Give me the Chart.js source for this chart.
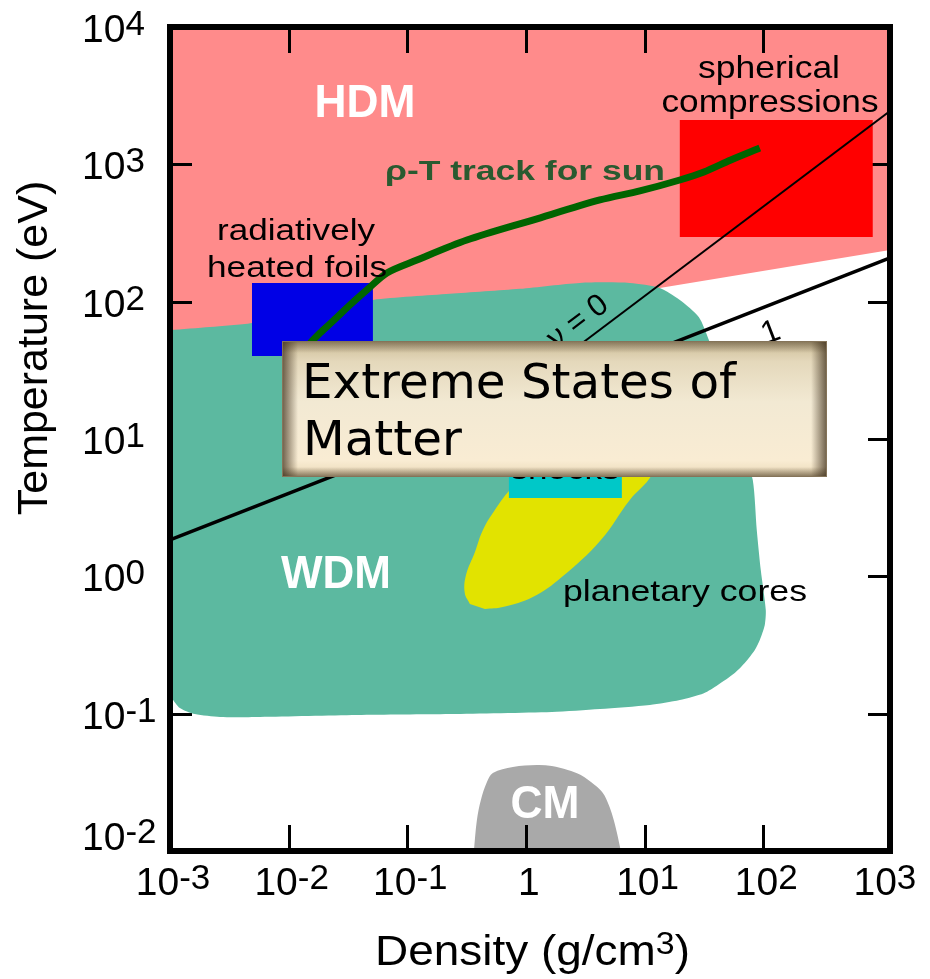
<!DOCTYPE html>
<html><head><meta charset="utf-8">
<script src="https://cdn.jsdelivr.net/npm/chart.js@4.4.1/dist/chart.umd.min.js"></script>
<style>html,body{margin:0;padding:0;background:#fff;}canvas{display:block;}</style>
</head><body>
<canvas id="c" width="930" height="979"></canvas>
<script>
// ---- data (density g/cm3, temperature eV) ----
const hdmRegion = [[0.001,10000],[1170,10000],[1170,238],[13.4,126],[9.1,62],[0.001,52.6]];
const wdmRegion = [[0.001,62.1],[0.00217,65.4],[0.00491,70.0],[0.01245,84.1],[0.0513,103],[0.2285,114],[0.889,124],[2.844,137],[7.50,137],[13.43,126],[19.8,103],[28.6,77.3],[34.8,52.6],[39.8,37.6],[46.5,26.9],[63.4,11.6],[81.6,5.02],[88.2,2.17],[95.3,1.11],[105,0.569],[103,0.443],[93.5,0.344],[84.9,0.291],[69.8,0.234],[57.5,0.198],[41.4,0.162],[31.6,0.141],[19.8,0.1257],[11.07,0.1156],[4.20,0.108],[1.652,0.1028],[0.2285,0.0993],[0.0376,0.0977],[0.00573,0.0946],[0.00264,0.0946],[0.00162,0.0993],[0.00121,0.110],[0.00104,0.130],[0.001,0.149]];
const cmRegion = [[0.364,0.01],[0.386,0.0168],[0.417,0.0235],[0.469,0.0318],[0.526,0.0370],[0.776,0.0409],[1.236,0.0423],[1.65,0.0416],[2.25,0.0389],[2.90,0.0357],[3.80,0.0302],[4.45,0.0264],[4.99,0.0216],[5.40,0.0177],[5.83,0.0137],[6.31,0.01]];
const planetaryCores = [[0.337,0.629],[0.305,0.757],[0.312,1.02],[0.371,1.50],[0.433,2.17],[0.547,3.04],[0.731,4.25],[1.31,7.03],[2.84,10.7],[6.18,12.6],[11.07,11.6],[13.4,8.32],[11.5,5.47],[7.50,3.60],[4.28,1.84],[2.005,0.989],[1.143,0.707],[0.638,0.598],[0.451,0.578]];
const shocksBox = [[0.718,7.03],[6.43,7.03],[6.43,3.72],[0.718,3.72]];
const foilsBox = [[0.00491,137],[0.0513,137],[0.0513,40.2],[0.00491,40.2]];
const compressionsBox = [[19.8,2100],[837,2100],[837,296],[19.8,296]];
const nuZeroLine = [[0.409,13.7],[1170,2445]];
const gammaOneLine = [[0.001,1.84],[1170,208]];
const sunTrack = [[0.01245,37.6],[0.01426,46.8],[0.01835,59.1],[0.02317,71.1],[0.0328,94.6],[0.0457,122],[0.0673,162],[0.1205,201],[0.318,281],[1.143,393],[4.20,550],[9.12,640],[19.8,769],[31.6,879],[53.3,1076],[93.5,1315]];

const xTickValues = [0.001,0.01,0.1,1,10,100,1000];
const xTickBase = ['10','10','10','1','10','10','10'];
const xTickExp  = ['-3','-2','-1','','1','2','3'];
const yTickValues = [0.01,0.1,1,10,100,1000,10000];
const yTickBase = ['10','10','10','10','10','10','10'];
const yTickExp  = ['-2','-1','0','1','2','3','4'];

const xTitle = ['Density (g/cm','3',')'];
const yTitle = 'Temperature (eV)';
const boxTitle = ['Extreme States of','Matter'];

// ---- helpers ----
const pts = a => a.map(p => ({x:p[0], y:p[1]}));
const SANS = '"Liberation Sans", Arial, Helvetica, sans-serif';

function fitText(ctx, text, x, y, font, color, align, width) {
  ctx.save();
  ctx.font = font; ctx.fillStyle = color; ctx.textBaseline = 'alphabetic'; ctx.textAlign = 'left';
  const w = ctx.measureText(text).width;
  const sx = width ? width / w : 1;
  const left = align === 'center' ? x - w * sx / 2 : (align === 'right' ? x - w * sx : x);
  ctx.translate(left, y); ctx.scale(sx, 1);
  ctx.fillText(text, 0, 0);
  ctx.restore();
  return sx;
}
function rotText(ctx, text, x, y, deg, font, color) {
  ctx.save();
  ctx.translate(x, y); ctx.rotate(deg * Math.PI / 180);
  ctx.font = font; ctx.fillStyle = color; ctx.textAlign = 'center'; ctx.textBaseline = 'middle';
  ctx.fillText(text, 0, 0);
  ctx.restore();
}
function supLabel(ctx, base, exp, x, yb, align, rise) {
  const bf = '39px ' + SANS, ef = '35px ' + SANS;
  ctx.font = bf; const wb = ctx.measureText(base).width;
  ctx.font = ef; const we = exp ? ctx.measureText(exp).width : 0;
  const x0 = align === 'center' ? x - (wb + we) / 2 : x;
  ctx.textAlign = 'left'; ctx.textBaseline = 'alphabetic'; ctx.fillStyle = '#000';
  ctx.font = bf; ctx.fillText(base, x0, yb);
  if (exp) { ctx.font = ef; ctx.fillText(exp, x0 + wb, yb - rise); }
}

function drawTicks(chart) {
  const {ctx, chartArea: a, scales: {x, y}} = chart;
  ctx.save(); ctx.strokeStyle = '#000'; ctx.lineWidth = 3; ctx.beginPath();
  xTickValues.forEach(v => {
    const px = Math.round(x.getPixelForValue(v)) + 0.5;
    if (px <= a.left + 4 || px >= a.right - 12) return;
    ctx.moveTo(px, a.bottom); ctx.lineTo(px, a.bottom - 26);
    ctx.moveTo(px, a.top); ctx.lineTo(px, a.top + 26);
  });
  yTickValues.forEach(v => {
    const py = Math.round(y.getPixelForValue(v)) + 0.5;
    if (py <= a.top + 4 || py >= a.bottom - 4) return;
    ctx.moveTo(a.left, py); ctx.lineTo(a.left + 22, py);
    ctx.moveTo(a.right, py); ctx.lineTo(a.right - 22, py);
  });
  ctx.stroke(); ctx.restore();
}

function drawLabels(chart) {
  const ctx = chart.ctx;
  fitText(ctx, 'HDM', 365, 117, 'bold 46px ' + SANS, '#fff', 'center', 101);
  fitText(ctx, 'WDM', 336, 588, 'bold 46px ' + SANS, '#fff', 'center', 110);
  fitText(ctx, 'CM', 545, 818, 'bold 46px ' + SANS, '#fff', 'center', 69);
  fitText(ctx, '\u03C1-T track for sun', 385, 180, 'bold 27px ' + SANS, '#2A5A30', 'left', 280);
  fitText(ctx, 'radiatively', 296, 240, '30px ' + SANS, '#000', 'center', 158);
  fitText(ctx, 'heated foils', 297, 277, '30px ' + SANS, '#000', 'center', 180);
  fitText(ctx, 'spherical', 769, 78, '32px ' + SANS, '#000', 'center', 142);
  fitText(ctx, 'compressions', 770, 112, '32px ' + SANS, '#000', 'center', 217);
  fitText(ctx, 'planetary cores', 563, 601, '29px ' + SANS, '#000', 'left', 244);
  fitText(ctx, 'shocks', 565, 479, '30px ' + SANS, '#000', 'center', 109);
  rotText(ctx, '\u03BD = 0', 578, 322, -37, '31px ' + SANS, '#000');
  rotText(ctx, '1', 771, 333, -21, '32px ' + SANS, '#000');
}

function drawFrame(chart) {
  const {ctx, chartArea: a} = chart;
  ctx.save(); ctx.strokeStyle = '#000'; ctx.lineWidth = 6;
  ctx.strokeRect(a.left, a.top, a.right - a.left, a.bottom - a.top);
  ctx.restore();
}

function drawAxisText(chart) {
  const {ctx, chartArea: a, scales: {x, y}} = chart;
  ctx.save();
  xTickValues.forEach((v, i) => supLabel(ctx, xTickBase[i], xTickExp[i], x.getPixelForValue(v) + 3, 895, 'center', 6));
  yTickValues.forEach((v, i) => supLabel(ctx, yTickBase[i], yTickExp[i], 82, Math.min(y.getPixelForValue(v) + 15, 850), 'left', 7));
  // x title with superscript
  const bf = '42px ' + SANS, sf = '31px ' + SANS;
  ctx.font = bf; const w1 = ctx.measureText(xTitle[0]).width, w3 = ctx.measureText(xTitle[2]).width;
  ctx.font = sf; const w2 = ctx.measureText(xTitle[1]).width;
  const sx = 315 / (w1 + w2 + w3);
  ctx.translate(375, 965); ctx.scale(sx, 1);
  ctx.fillStyle = '#000'; ctx.textAlign = 'left'; ctx.textBaseline = 'alphabetic';
  ctx.font = bf; ctx.fillText(xTitle[0], 0, 0);
  ctx.font = sf; ctx.fillText(xTitle[1], w1, -11);
  ctx.font = bf; ctx.fillText(xTitle[2], w1 + w2, 0);
  ctx.restore();
  ctx.save();
  ctx.translate(47, 348); ctx.rotate(-Math.PI / 2);
  ctx.font = '43px ' + SANS; ctx.fillStyle = '#000'; ctx.textAlign = 'center'; ctx.textBaseline = 'alphabetic';
  ctx.fillText(yTitle, 0, 0);
  ctx.restore();
}

function drawBox(chart) {
  const ctx = chart.ctx;
  const x0 = 282, y0 = 341, w = 545, h = 136;
  ctx.save();
  const g = ctx.createLinearGradient(0, y0, 0, y0 + h);
  g.addColorStop(0, '#cbbb95'); g.addColorStop(0.15, '#e4d8bb'); g.addColorStop(0.45, '#f2e9d3');
  g.addColorStop(0.88, '#f9ecd3'); g.addColorStop(1, '#e8d7b4');
  ctx.fillStyle = g; ctx.fillRect(x0, y0, w, h);
  const sh = 'rgba(60,45,25,';
  let gr = ctx.createLinearGradient(x0, 0, x0 + 16, 0);
  gr.addColorStop(0, sh + '0.75)'); gr.addColorStop(1, sh + '0)');
  ctx.fillStyle = gr; ctx.fillRect(x0, y0, 16, h);
  gr = ctx.createLinearGradient(x0 + w, 0, x0 + w - 16, 0);
  gr.addColorStop(0, sh + '0.75)'); gr.addColorStop(1, sh + '0)');
  ctx.fillStyle = gr; ctx.fillRect(x0 + w - 16, y0, 16, h);
  gr = ctx.createLinearGradient(0, y0, 0, y0 + 12);
  gr.addColorStop(0, sh + '0.5)'); gr.addColorStop(1, sh + '0)');
  ctx.fillStyle = gr; ctx.fillRect(x0, y0, w, 12);
  gr = ctx.createLinearGradient(0, y0 + h, 0, y0 + h - 10);
  gr.addColorStop(0, sh + '0.6)'); gr.addColorStop(1, sh + '0)');
  ctx.fillStyle = gr; ctx.fillRect(x0, y0 + h - 10, w, 10);
  ctx.strokeStyle = '#857459'; ctx.lineWidth = 1; ctx.strokeRect(x0 + 0.5, y0 + 0.5, w - 1, h - 1);
  ctx.restore();
  const f = '48px "DejaVu Sans", Verdana, sans-serif';
  ctx.save(); ctx.font = f;
  const sx = 434 / ctx.measureText(boxTitle[0]).width;
  ctx.fillStyle = '#000'; ctx.textAlign = 'left'; ctx.textBaseline = 'alphabetic';
  ctx.translate(302, 398); ctx.scale(sx, 1); ctx.fillText(boxTitle[0], 0, 0);
  ctx.fillText(boxTitle[1], 1, 57);
  ctx.restore();
}

const decor = {
  id: 'decor',
  afterDatasetDraw(chart, args) { if (args.index === 1) drawTicks(chart); },
  afterDatasetsDraw(chart) { drawLabels(chart); drawFrame(chart); },
  afterDraw(chart) { drawAxisText(chart); drawBox(chart); }
};

const area = (label, data, color, tension) => ({label, data: pts(data), backgroundColor: color, borderColor: 'rgba(0,0,0,0)', borderWidth: 0, fill: 'shape', tension});
const datasets = [
  area('HDM', hdmRegion, '#FF8B8B', 0),
  area('CM', cmRegion, '#A9A9A9', 0.35),
  area('WDM', wdmRegion, '#5CB9A0', 0.25),
  area('planetary cores', planetaryCores, '#E2E300', 0.4),
  area('shocks', shocksBox, '#00C8C8', 0),
  area('radiatively heated foils', foilsBox, '#0000E6', 0),
  area('spherical compressions', compressionsBox, '#FF0000', 0),
  {label: 'nu = 0', data: pts(nuZeroLine), borderColor: '#000', borderWidth: 2, fill: false},
  {label: 'Gamma = 1', data: pts(gammaOneLine), borderColor: '#000', borderWidth: 3.5, fill: false},
  {label: 'rho-T track for sun', data: pts(sunTrack), borderColor: '#006400', borderWidth: 7, fill: false, tension: 0.3, borderCapStyle: 'butt'}
].map((d, i) => Object.assign({order: -i, pointRadius: 0, pointHoverRadius: 0}, d));

new Chart(document.getElementById('c'), {
  type: 'line',
  data: {datasets},
  options: {
    responsive: false, animation: false, events: [], devicePixelRatio: 1,
    layout: {padding: {left: 170, top: 27, right: 40, bottom: 128}},
    plugins: {legend: {display: false}, tooltip: {enabled: false}, title: {display: false}},
    scales: {
      x: {type: 'logarithmic', min: 0.001, max: 1170, display: false},
      y: {type: 'logarithmic', min: 0.01, max: 10000, display: false}
    }
  },
  plugins: [decor]
});
</script>
</body></html>
